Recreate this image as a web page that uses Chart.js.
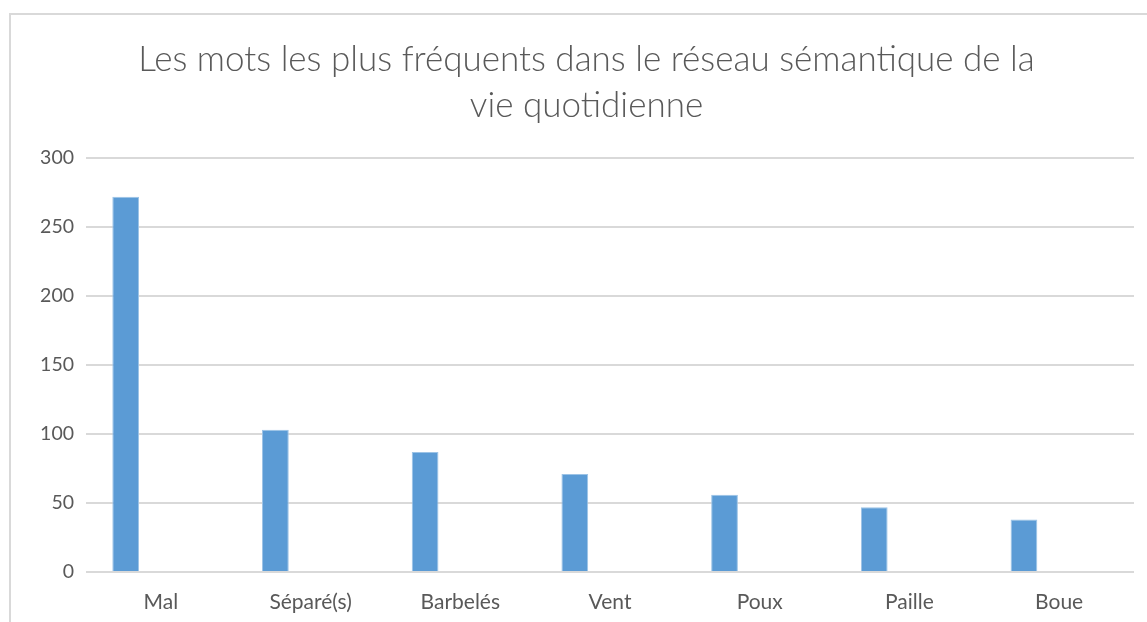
<!DOCTYPE html>
<html>
<head>
<meta charset="utf-8">
<script src="https://cdn.jsdelivr.net/npm/chart.js@4.4.1/dist/chart.umd.min.js"></script>
<style>
  html, body { margin: 0; padding: 0; background: #fff; overflow: hidden; }
  .frame {
    position: absolute;
    left: 9px;
    top: 13px;
    width: 1138px;
    height: 609px;
    border-left: 2px solid #d9d9d9;
    border-top: 2px solid #d9d9d9;
  }
  .box { position: absolute; left: 11px; top: 15px; width: 1136px; height: 607px; }
</style>
</head>
<body>
<div class="frame"></div>
<div class="box"><canvas id="wordChart"></canvas></div>
<script>
const categories = ["Mal", "Séparé(s)", "Barbelés", "Vent", "Poux", "Paille", "Boue"];
const frequencies = [272, 103, 87, 71, 56, 47, 38];
const emptySeries = [null, null, null, null, null, null, null];
const yTicks = [0, 50, 100, 150, 200, 250, 300];

const textColor = "#595959";
const fontFamily = "Lato, 'Open Sans', sans-serif";

const ctx = document.getElementById("wordChart").getContext("2d");

new Chart(ctx, {
  type: "bar",
  data: {
    labels: categories,
    datasets: [
      {
        label: "Fréquence",
        data: frequencies,
        backgroundColor: "#5b9bd5",
        borderColor: "#9cc3e6",
        borderWidth: { left: 1, right: 1, top: 1, bottom: 0 },
        categoryPercentage: 0.94,
        barPercentage: 0.38,
      },
      {
        label: "",
        data: emptySeries,
        backgroundColor: "#ed7d31",
        categoryPercentage: 0.94,
        barPercentage: 0.38,
      },
    ],
  },
  options: {
    responsive: true,
    maintainAspectRatio: false,
    animation: false,
    // left padding keeps the title centred like the original
    layout: { padding: { left: 28, right: 13, top: 22, bottom: 6 } },
    scales: {
      x: {
        afterFit: (axis) => {
          axis.height = 44;
        },
        grid: { display: false, drawTicks: false },
        border: { display: false },
        ticks: {
          color: textColor,
          font: { family: fontFamily, size: 21 },
          padding: 18,
        },
      },
      y: {
        min: 0,
        max: 300,
        afterBuildTicks: (axis) => {
          axis.ticks = yTicks.map((v) => ({ value: v }));
        },
        afterFit: (axis) => {
          axis.width = 47;
        },
        grid: { color: "#d9d9d9", lineWidth: 2, drawTicks: false },
        border: { display: false },
        ticks: {
          color: textColor,
          font: { family: fontFamily, size: 19.5 },
          padding: 12,
        },
      },
    },
    plugins: {
      legend: { display: false },
      tooltip: { enabled: false },
      title: {
        display: true,
        text: ["Les mots les plus fréquents dans le réseau sémantique de la", "vie quotidienne"],
        color: textColor,
        font: { family: fontFamily, size: 35, weight: 300, lineHeight: 1.3 },
        padding: { top: 0, bottom: 30 },
      },
    },
  },
});
</script>
</body>
</html>
